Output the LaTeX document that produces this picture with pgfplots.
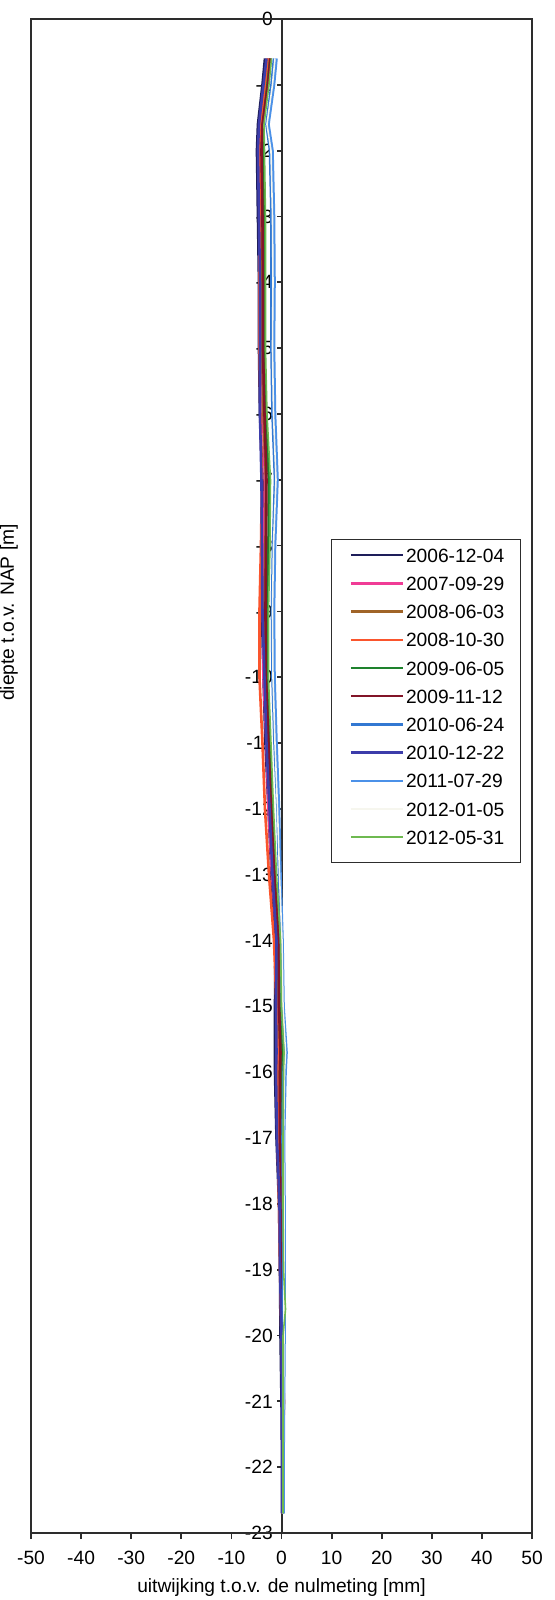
\documentclass[border=0pt]{standalone}
\usepackage{fontspec}
\setmainfont{Liberation Sans}
\usepackage{pgfplots}
\pgfplotsset{compat=1.18}
\definecolor{cNavy}{RGB}{30,30,90}
\definecolor{cMag}{RGB}{240,60,150}
\definecolor{cBrown}{RGB}{160,100,40}
\definecolor{cOrange}{RGB}{250,85,45}
\definecolor{cGreen}{RGB}{30,130,45}
\definecolor{cDRed}{RGB}{130,20,40}
\definecolor{cMBlue}{RGB}{50,120,210}
\definecolor{cIndigo}{RGB}{60,60,170}
\definecolor{cLBlue}{RGB}{75,145,232}
\definecolor{cWhite}{RGB}{246,246,238}
\definecolor{cLGreen}{RGB}{110,185,80}
\definecolor{cFrame}{RGB}{45,45,45}
\newcommand{\chartfont}{\fontsize{9.6}{11.5}\selectfont}
\begin{document}
\begin{tikzpicture}
% zero line with depth tick labels
\begin{axis}[
  scale only axis, width=250.5pt, height=757pt,
  xmin=-50, xmax=50, ymin=-23, ymax=0,
  axis x line=none, axis y line=center,
  y axis line style={-, line width=1pt, cFrame},
  ytick={-23,-22,...,0},
  tick align=outside, major tick length=2.2pt,
  ytick style={line width=0.9pt, cFrame},
  /pgf/number format/assume math mode=true,
  tick label style={font=\chartfont},
  yticklabel style={inner sep=2pt},
]
\end{axis}
\begin{axis}[name=ax,
  scale only axis, width=250.5pt, height=757pt,
  xmin=-50, xmax=50, ymin=-23, ymax=0,
  axis line style={line width=1pt, cFrame},
  xtick={-50,-40,...,50}, ytick=\empty,
  xtick pos=bottom, tick align=outside, major tick length=3pt,
  xtick style={line width=0.9pt, cFrame},
  /pgf/number format/assume math mode=true,
  tick label style={font=\chartfont},
  xticklabel style={inner sep=2pt, yshift=-4pt},
  xlabel={uitwijking t.o.v. de nulmeting [mm]},
  ylabel={diepte t.o.v. NAP [m]},
  label style={font=\chartfont},
  xlabel style={at={(axis description cs:0.5,0)}, anchor=center, yshift=-27.5pt},
  ylabel style={at={(axis description cs:0,0.608)}, anchor=center, yshift=11pt},
  legend cell align=left,
  legend style={name=leg, at={(axis description cs:0.599,0.656)}, anchor=north west,
    font=\chartfont, draw=none, inner sep=3pt,
    row sep=5.1pt, nodes={inner sep=1pt, text height=7pt, text depth=0pt}},
  legend image code/.code={\path (0pt,0pt); \draw[#1, line width=1.2pt] (6pt,0pt) -- (32pt,0pt);},
  every axis plot/.append style={line width=1.3pt},
]
\addplot[cNavy] coordinates {(-3.3,-0.6) (-3.8,-1) (-4.7,-1.6) (-4.9,-2) (-4.7,-3) (-4.5,-4) (-4.5,-5) (-4.3,-6) (-3.8,-7) (-3.8,-8) (-3.9,-9) (-3.6,-10) (-3.2,-11) (-2.6,-12) (-2.0,-13) (-1.2,-14) (-1.3,-15) (-1.3,-15.7) (-1.3,-16) (-1.0,-17) (-0.5,-18) (-0.3,-19) (-0.2,-20) (0,-21) (0.1,-22) (0.1,-22.7)};
\addlegendentry{2006-12-04\hspace*{4pt}}
\addplot[cMag] coordinates {(-2.5,-0.6) (-3.1,-1) (-4.0,-1.6) (-4.2,-2) (-4.1,-3) (-4.0,-4) (-3.9,-5) (-3.7,-6) (-3.3,-7) (-3.5,-8) (-3.7,-9) (-3.6,-10) (-3.0,-11) (-2.6,-12) (-1.9,-13) (-0.9,-14) (-0.8,-15) (-0.6,-15.7) (-0.6,-16) (-0.5,-17) (-0.2,-18) (0,-19) (0.1,-20) (0.2,-21) (0.2,-22) (0.2,-22.7)};
\addlegendentry{2007-09-29}
\addplot[cBrown] coordinates {(-2.6,-0.6) (-3.2,-1) (-4.1,-1.6) (-4.0,-2) (-3.9,-3) (-3.9,-4) (-3.9,-5) (-3.6,-6) (-3.1,-7) (-3.2,-8) (-3.4,-9) (-3.3,-10) (-2.8,-11) (-2.2,-12) (-1.6,-13) (-0.7,-14) (-0.6,-15) (-0.3,-15.7) (-0.4,-16) (-0.3,-17) (0,-18) (0.1,-19) (0.1,-20) (0.2,-21) (0.2,-22) (0.2,-22.7)};
\addlegendentry{2008-06-03}
\addplot[cOrange] coordinates {(-2.8,-0.6) (-3.3,-1) (-4.2,-1.6) (-4.4,-2) (-4.4,-3) (-4.4,-4) (-4.4,-5) (-4.2,-6) (-3.9,-7) (-4.1,-8) (-4.4,-9) (-4.4,-10) (-3.8,-11) (-3.3,-12) (-2.5,-13) (-1.5,-14) (-1.0,-15) (-0.8,-15.7) (-0.9,-16) (-0.8,-17) (-0.5,-18) (-0.3,-19) (0,-20) (0.5,-21) (0.2,-22) (0.2,-22.7)};
\addlegendentry{2008-10-30}
\addplot[cGreen] coordinates {(-2.2,-0.6) (-2.8,-1) (-3.7,-1.6) (-3.6,-2) (-3.5,-3) (-3.5,-4) (-3.5,-5) (-3.2,-6) (-2.5,-7) (-2.6,-8) (-2.9,-9) (-2.9,-10) (-2.4,-11) (-1.9,-12) (-1.3,-13) (-0.5,-14) (-0.3,-15) (0.1,-15.7) (-0.1,-16) (-0.1,-17) (0.1,-18) (0.2,-19) (0.2,-20) (0.3,-21) (0.3,-22) (0.3,-22.7)};
\addlegendentry{2009-06-05}
\addplot[cDRed] coordinates {(-2.2,-0.6) (-2.7,-1) (-3.8,-1.6) (-4.0,-2) (-3.8,-3) (-3.7,-4) (-3.7,-5) (-3.4,-6) (-3.0,-7) (-3.1,-8) (-3.2,-9) (-3.1,-10) (-2.6,-11) (-2.1,-12) (-1.4,-13) (-0.6,-14) (-0.5,-15) (-0.2,-15.7) (-0.3,-16) (-0.3,-17) (0,-18) (0.1,-19) (0.1,-20) (0.4,-21) (0.3,-22) (0.2,-22.7)};
\addlegendentry{2009-11-12}
\addplot[cMBlue] coordinates {(-1.5,-0.6) (-2.0,-1) (-3.0,-1.6) (-2.3,-2) (-2.0,-3) (-2.0,-4) (-2.0,-5) (-1.8,-6) (-1.3,-7) (-1.7,-8) (-1.9,-9) (-1.8,-10) (-1.4,-11) (-0.8,-12) (-0.5,-13) (-0.1,-14) (0.1,-15) (0.6,-15.7) (0.4,-16) (0.2,-17) (0.3,-18) (0.4,-19) (0.4,-20) (0.4,-21) (0.3,-22) (0.3,-22.7)};
\addlegendentry{2010-06-24}
\addplot[cIndigo] coordinates {(-3.0,-0.6) (-3.6,-1) (-4.5,-1.6) (-4.7,-2) (-4.5,-3) (-4.3,-4) (-4.3,-5) (-4.3,-6) (-4.0,-7) (-3.9,-8) (-3.8,-9) (-3.4,-10) (-3.0,-11) (-2.4,-12) (-1.8,-13) (-1.0,-14) (-1.1,-15) (-1.0,-15.7) (-1.1,-16) (-0.9,-17) (-0.4,-18) (-0.3,-19) (0,-20) (0.1,-21) (0.2,-22) (0.2,-22.7)};
\addlegendentry{2010-12-22}
\addplot[cLBlue] coordinates {(-1.0,-0.6) (-1.5,-1) (-2.6,-1.6) (-1.8,-2) (-1.5,-3) (-1.4,-4) (-1.5,-5) (-1.3,-6) (-0.8,-7) (-1.3,-8) (-1.5,-9) (-1.4,-10) (-1.0,-11) (-0.5,-12) (-0.2,-13) (0.2,-14) (0.4,-15) (1.0,-15.7) (0.8,-16) (0.5,-17) (0.6,-18) (0.6,-19) (0.6,-20) (0.5,-21) (0.4,-22) (0.4,-22.7)};
\addlegendentry{2011-07-29}
\addplot[cWhite, line width=0.8pt] coordinates {(-1.3,-0.6) (-1.8,-1) (-2.9,-1.6) (-2.1,-2) (-1.8,-3) (-1.7,-4) (-1.8,-5) (-1.6,-6) (-1.1,-7) (-1.6,-8) (-1.8,-9) (-1.7,-10) (-1.3,-11) (-0.8,-12) (-0.4,-13) (0.1,-14) (0.3,-15) (0.8,-15.7) (0.6,-16) (0.4,-17) (0.5,-18) (0.5,-19) (0.5,-20) (0.4,-21) (0.3,-22) (0.3,-22.7)};
\addlegendentry{2012-01-05}
\addplot[cLGreen, line width=0.8pt] coordinates {(-2.0,-0.6) (-2.5,-1) (-3.5,-1.6) (-3.4,-2) (-3.2,-3) (-3.2,-4) (-3.2,-5) (-2.9,-6) (-2.2,-7) (-2.3,-8) (-2.6,-9) (-2.6,-10) (-2.1,-11) (-1.6,-12) (-1.0,-13) (-0.2,-14) (0,-15) (0.5,-15.7) (0.4,-16) (0.3,-17) (0.3,-18) (0.4,-19) (0.8,-19.6) (0.3,-20) (0.3,-21) (0.3,-22) (0.3,-22.7)};
\addlegendentry{2012-05-31}
\end{axis}
\draw[cFrame, line width=0.6pt] (leg.north west) rectangle ([yshift=-5pt]leg.south east);
\pgfresetboundingbox
\path[use as bounding box] ([shift={(-15.5pt,-33.5pt)}]ax.south west) rectangle ([shift={(262pt,766.5pt)}]ax.south west);
\end{tikzpicture}
\end{document}
